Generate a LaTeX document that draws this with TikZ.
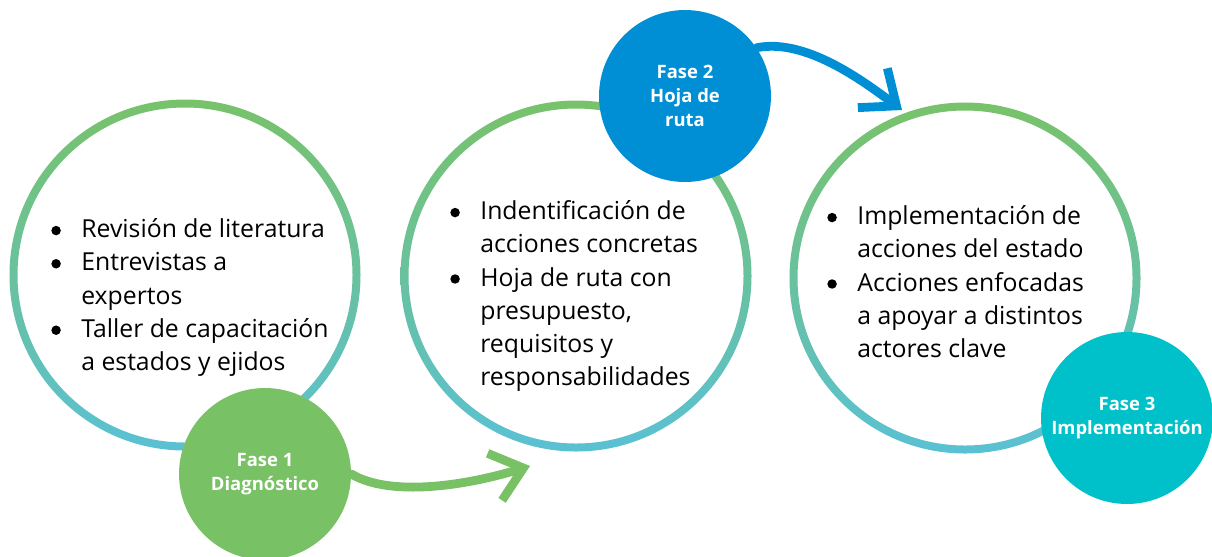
\documentclass[tikz,border=0pt]{standalone}
\usepackage{fontspec}
\setmainfont{Open Sans}
\usetikzlibrary{arrows.meta}
\definecolor{anilloarriba}{RGB}{120,194,106}
\definecolor{anilloabajo}{RGB}{90,193,212}
\definecolor{verdefase}{RGB}{120,193,100}
\definecolor{azulfase}{RGB}{0,143,213}
\definecolor{turquesafase}{RGB}{0,192,201}
\newcommand{\bul}{\makebox[0.66cm][l]{\tikz[baseline=0pt]{\path (0pt,0pt); \fill (4.4pt,4pt) circle (2.7pt);}}}
\tikzset{
  fase/.style={circle,inner sep=0pt,minimum size=3.44cm,text=white,align=center,
    font=\fontsize{10.5}{13.7}\selectfont\bfseries},
  lista/.style={anchor=north west,inner sep=0pt,font=\fontsize{14.1}{18.9}\selectfont},
  flecha/.style={line width=5pt,line cap=round,-{Straight Barb[length=17pt,width=28pt]}}
}

\begin{document}
\begin{tikzpicture}[x=0.02cm,y=-0.02cm]
    \useasboundingbox (0,0) rectangle (1212,556);
    \coordinate (C1) at (185,275);
    \coordinate (C2) at (576,276);
    \coordinate (C3) at (965,278);
    \foreach \c in {C1,C2,C3}
      \shade[top color=anilloarriba,bottom color=anilloabajo,even odd rule]
        (\c) circle (175.5) (\c) circle (167.5);
    \node[lista] (L1) at (48,214) {\begin{tabular}{@{}l@{}l@{}}
      \bul & Revisión de literatura\\
      \bul & Entrevistas a\\
           & expertos\\
      \bul & Taller de capacitación\\
           & a estados y ejidos
    \end{tabular}};
    \node[lista] (L2) at (447,196) {\begin{tabular}{@{}l@{}l@{}}
      \bul & Indentificación de\\
           & acciones concretas\\
      \bul & Hoja de ruta con\\
           & presupuesto,\\
           & requisitos y\\
           & responsabilidades
    \end{tabular}};
    \node[lista] (L3) at (824,201) {\begin{tabular}{@{}l@{}l@{}}
      \bul & Implementación de\\
           & acciones del estado\\
      \bul & Acciones enfocadas\\
           & a apoyar a distintos\\
           & actores clave
    \end{tabular}};
    \node[fase,fill=verdefase] (F1) at (265,474) {Fase 1\\Diagnóstico};
    \node[fase,fill=azulfase] (F2) at (685,96) {Fase 2\\Hoja de\\ruta};
    \node[fase,fill=turquesafase] (F3) at (1127,418) {Fase 3\\Implementación};
    \coordinate (P1) at (530,466);
    \coordinate (P2) at (902,110);
    \draw[flecha,verdefase] (F1.east) .. controls (390,497) and (465,486) .. (P1);
    \draw[flecha,azulfase] (F2.34) .. controls (805,38) and (862,80) .. (P2);
  \end{tikzpicture}
\end{document}
